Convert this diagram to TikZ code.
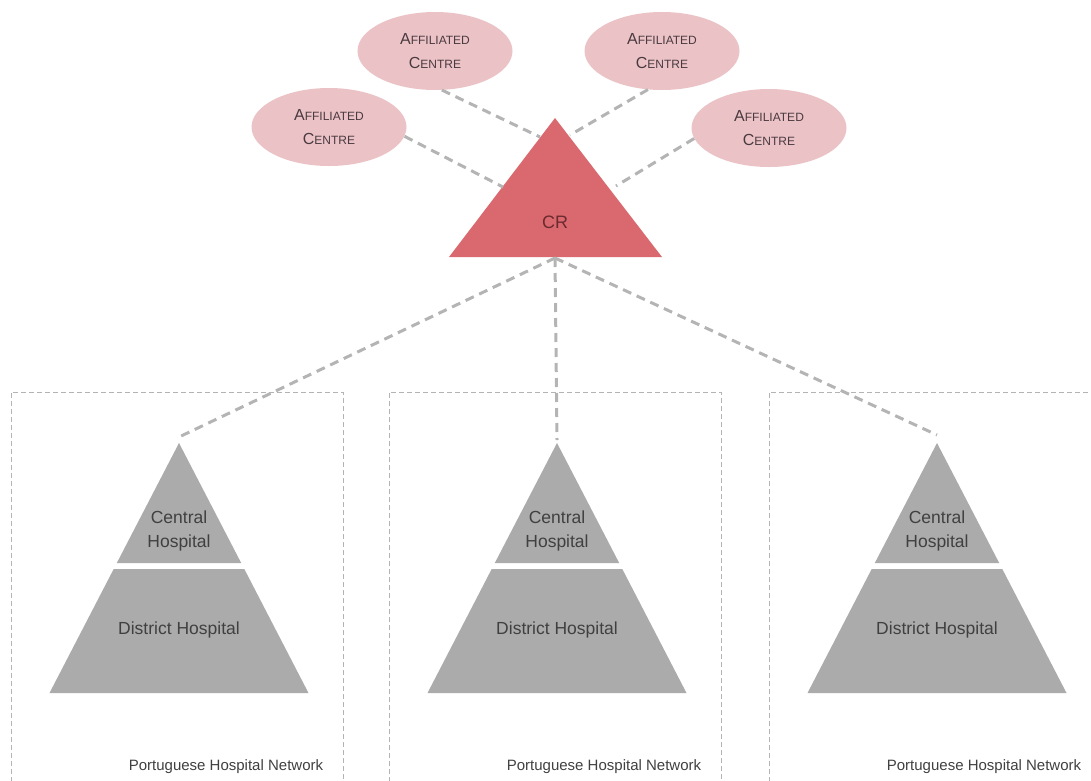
\documentclass[tikz,border=0pt]{standalone}
\usepackage{fontspec}
\setmainfont{Liberation Sans}
\usetikzlibrary{shapes.geometric}
\definecolor{ellfill}{HTML}{EBC3C6}
\definecolor{crfill}{HTML}{D9696E}
\definecolor{pyrfill}{HTML}{ABABAB}
\definecolor{linegray}{HTML}{B4B4B4}
\definecolor{txtgray}{HTML}{404040}
\definecolor{elltxt}{HTML}{4A3A40}
\definecolor{crtxt}{HTML}{6B2A30}
\newcommand{\affiltext}{A{\fontsize{12}{24}\selectfont FFILIATED}\\C{\fontsize{12}{24}\selectfont ENTRE}}
\begin{document}
\begin{tikzpicture}[x=1pt,y=-1pt,
  affil/.style={ellipse, fill=ellfill, minimum width=155pt, minimum height=78pt, inner sep=0pt, align=center, text=elltxt, font=\fontsize{16}{24}\selectfont},
  conn/.style={linegray, line width=3pt, dash pattern=on 9pt off 6pt},
  netbox/.style={linegray, line width=0.9pt, dash pattern=on 5pt off 3pt},
  lbl/.style={text=txtgray, font=\fontsize{17.5}{24}\selectfont, align=center, inner sep=0pt},
  netlbl/.style={text=txtgray, font=\fontsize{15}{18}\selectfont, inner sep=0pt},
  crlbl/.style={text=crtxt, font=\fontsize{18}{22}\selectfont, inner sep=0pt}]
\useasboundingbox (0,0) rectangle (1091,780);
\clip (0,0) rectangle (1091,780);

% CR triangle
\fill[crfill] (555,118) -- (662,257) -- (449,257) -- cycle;
\node[crlbl] (cr) at (555,222) {CR};
\coordinate (crbase) at (555,258);
\coordinate (crL) at (503,187);
\coordinate (crTL) at (540,137);
\coordinate (crTR) at (570,135);
\coordinate (crR) at (616,186);

% affiliated centres
\node[affil] (eTL) at (435,51) {\affiltext};
\node[affil] (eL) at (329,127) {\affiltext};
\node[affil] (eTR) at (662,51) {\affiltext};
\node[affil] (eR) at (769,128) {\affiltext};

\draw[conn] (eL.-7.6) -- (crL);
\draw[conn] (eTL.-80) -- (crTL);
\draw[conn] (eTR.-110) -- (crTR);
\draw[conn] (eR.188) -- (crR);

% hospital networks
\foreach \n/\x/\t in {L/179/437, M/557/440, R/937/435}{
  \draw[netbox] (\x-168,790) -- (\x-168,392) -- (\x+164,392) -- (\x+164,790);
  \fill[pyrfill] (\x,443) -- (\x+62.2,563) -- (\x-62.2,563) -- cycle;
  \fill[pyrfill] (\x-65.3,569) -- (\x+65.3,569) -- (\x+129.5,693) -- (\x-129.5,693) -- cycle;
  \coordinate (top\n) at (\x,\t);
  \node[lbl] (c\n) at (\x,531) {Central\\Hospital};
  \node[lbl] (d\n) at (\x,630) {District Hospital};
  \node[netlbl] (n\n) at (\x+47,767) {Portuguese Hospital Network};
  \draw[conn] (crbase) -- (top\n);
}
\end{tikzpicture}
\end{document}
